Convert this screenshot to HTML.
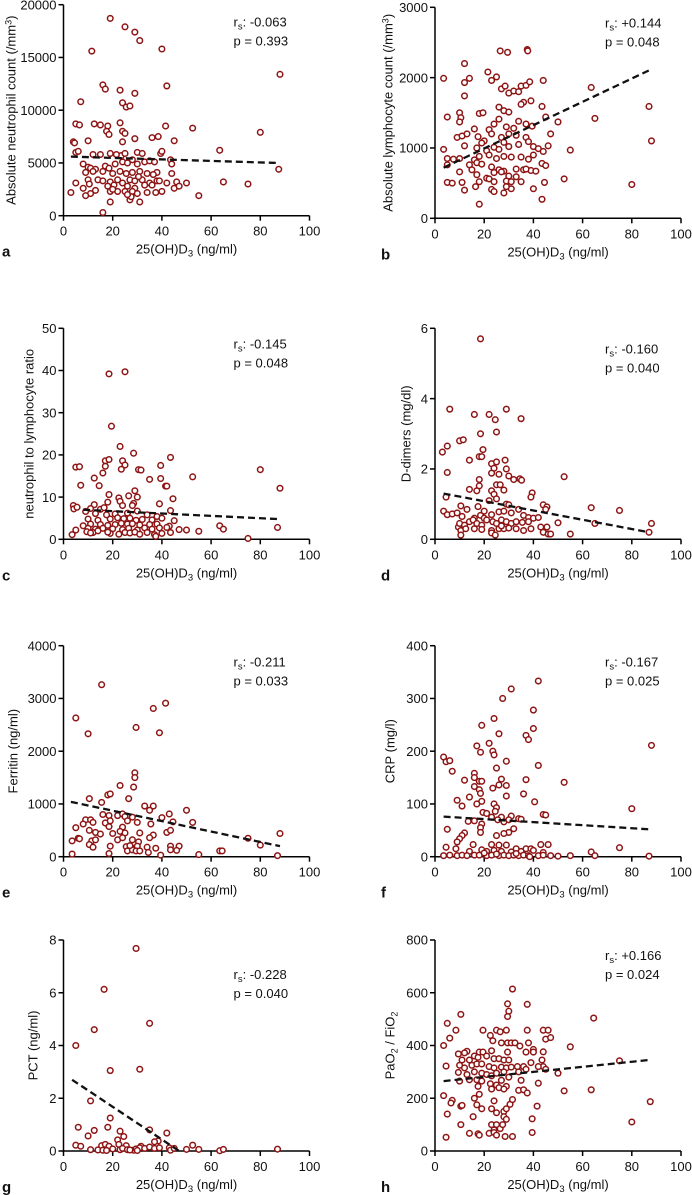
<!DOCTYPE html>
<html><head><meta charset="utf-8">
<style>
html,body{margin:0;padding:0;background:#fff;}
svg{display:block;font-family:"Liberation Sans",Arial,sans-serif;}
</style></head>
<body>
<svg id="fig" width="692" height="1195" viewBox="0 0 692 1195"></svg>
<script>
// ---- data (x = 25(OH)D3 ng/ml, y = marker value) ----
const xA=[19,25,29,31,11.5,40,88,16,17,23,42,29,7,24,25.5,27,5,6.5,12.5,15,18,17.5,23,24,25,18.5,41.5,52.5,80,10,4,4.5,24,29,36,38.5,45,63.5,5,6,12,15,19,23.5,25,30,32,39.5,40,43.5,8,10,11,13,17,18.5,21,24,26,28,30,33,35,37,44,87.5,9,12,16,20,23,25.5,28,31,34,38,44,10,14,16,19,22,24,27,29,32,35,38,42,46,50,65,75,5,10.5,18,20.5,26,29,33,36,45,47,3,8,11,13,19,22,25,28,30,34,37.5,40,9,27,27.5,19,31,55,16,26,30.5,36.5,39,21.5,20];
const yA=[18700,17900,17400,16600,15600,15800,13400,12400,12000,11900,12300,11600,10800,10700,10300,10400,8700,8600,8700,8600,8500,8000,8800,8000,7800,7700,8500,8300,7900,7100,7000,6900,7000,7300,7400,7500,7100,6200,6000,6100,5800,5800,5900,5700,5900,6000,5900,5900,6100,5300,4900,4600,4500,4400,4700,4500,4900,5100,5000,5300,4900,5100,5200,5100,4900,4400,4100,4200,4200,4000,4200,4000,4100,4200,4000,4100,4000,3400,3400,3300,3200,3400,3100,3400,3300,3400,3100,3300,3100,3200,3100,3200,3000,3100,3000,2800,2900,2800,2600,2900,2900,2600,2800,2200,2600,2100,2400,2300,2300,2300,2300,2100,2200,2200,2300,1900,1500,1800,1300,1300,1900,300,2000,3700,3900,3300,5800,2500];
const xB=[12,26.5,29.5,37.5,37.7,3.5,12,14,21.5,23,25,44,63.5,12,27,28.5,30,32,34,35,37,38.5,36,39,5,10,10.5,18,19.5,26,28,30,35,43.5,45,50,65,87,10,16,22,24,26,29,32,34,37,39.5,47,9,11,13,17.5,20,23,27,30,33,37,3.5,12,17,19,21,24,26,28,30,34,38,40,42,44,46,55,88,5,7.5,10,16,18,22,25,28,31,35,38,40,5,14,17,19,23,26,28,33,36,39,43.5,45,10,15,17,21,24,27,30,33,37,41,5,7,11,18,22,24,29,31,35,44.5,52.5,80,12,16.5,23,24,28,31,40,43.5,18,29];
const yB=[2200,2380,2360,2400,2380,1990,1930,1990,2080,1960,2010,1960,1860,1740,1840,1880,1780,1810,1800,1880,1890,1940,1650,1670,1440,1500,1430,1490,1500,1580,1530,1510,1620,1590,1440,1370,1420,1590,1370,1270,1260,1340,1410,1300,1280,1380,1340,1310,1200,1150,1170,1200,1160,1100,1200,1150,1200,1180,1150,980,1030,1000,1070,960,1010,980,1080,1020,1050,1090,1020,990,950,1030,970,1100,850,840,850,830,880,900,850,880,870,870,840,900,760,760,790,770,730,690,670,700,690,680,780,750,660,690,620,570,650,660,600,590,700,670,510,500,510,520,560,520,530,520,520,510,560,480,400,450,410,380,360,420,420,270,200,450];
const xC=[18.5,25,19.5,23,28.5,43.5,17,18.5,24,25,5,6.5,17,23.5,30.5,31.5,39.5,80,16,12.5,35,39.5,52.5,14.5,7,41.5,42,88,29,18.5,26.5,30,22.5,44.5,23,28.5,28,18,12.5,4,4.2,5.5,11,15,16.5,24,39,43.5,9,13,17.5,21,26,30,34,38,10,14,19,22,24.5,27,29.5,32,36,40,45,8,11,15,18,21,23.5,26,28,31,35,38,43,47,63.5,65,87,5,10,13,16,20,24,26.5,30,33,36,39,42,50,55,3.5,9.5,12,19,22.5,25,27,29,31,34,37,40,43.5,37.5,75,11,14,18];
const yC=[39.2,39.7,26.8,22,20.4,19.4,18.6,18.9,18.6,17.6,17.1,17.2,17.3,16.6,16.5,16.4,17.5,16.5,15.7,14.5,14.2,14.4,14.8,12.7,12.8,12.6,12.6,12.1,11.5,10.6,10.3,10,9.8,9.6,9,8.5,8,8.8,8.2,8,7.2,7.6,7.3,7.1,7.5,8,8.4,6.8,6.6,6.1,5.8,6,6.2,6.7,5.8,5.4,4.8,4.5,4.8,5.1,4.9,5,4.5,4.7,4.6,5,4.4,3.2,3.6,3.5,3.3,3.5,3.8,3.6,3.7,3.4,3.5,3.6,3.1,2.3,3.2,2.4,2.8,2.2,2.6,2.4,2.6,2.5,2.3,2.6,2.2,2.7,2.4,2.7,2.8,2.2,1.9,1.1,1.8,1.6,1.4,1.2,1.6,1.5,1.7,1.2,1.6,1.1,1.4,1.6,0.7,0.2,1.5,2,1.7];
const xD=[18.5,6,29,16,22,24.5,35,25,18.5,10,11.5,5,3,19.5,18,19,14,28.5,23,25,29,24,5,23,26,30,52.5,32,34.5,35.2,18,18,25,26.5,14,17,23,28,39.5,39,24,25,22,4.5,10.5,17.5,29,30,44,45.5,63.5,75,3.5,5,7,9,11,13,16,18.5,20,23,26,28,31,34,36,38,40,42,45,9.5,10,12,14,15.5,17,19,21,23.5,25,27,29,31,33,35.5,38,50,65,88,10.5,12.5,16,19,23,26,28,30,33,36,39,43,45.5,10.5,23,24.5,44,46,47,55,87,27,20];
const yD=[5.7,3.7,3.7,3.55,3.55,3.4,3.43,3.05,3,2.8,2.83,2.65,2.48,2.55,2.35,2.35,2.25,2.25,2.15,2.2,2,2.02,1.9,1.88,1.85,1.8,1.78,1.7,1.72,1.68,1.7,1.52,1.55,1.55,1.42,1.38,1.38,1.4,1.32,1.2,1.28,1.15,1.1,1.2,0.95,0.93,1,0.98,0.98,0.92,0.9,0.82,0.8,0.7,0.72,0.75,0.65,0.85,0.6,0.68,0.6,0.7,0.78,0.8,0.75,0.85,0.68,0.62,0.6,0.62,0.85,0.35,0.45,0.4,0.5,0.55,0.45,0.4,0.55,0.5,0.45,0.55,0.5,0.45,0.5,0.48,0.5,0.47,0.45,0.45,0.25,0.3,0.3,0.28,0.25,0.3,0.3,0.32,0.3,0.25,0.3,0.35,0.35,0.12,0.18,0.12,0.2,0.15,0.15,0.15,0.2,0.38,0.8];
const xE=[15.5,5,10,29.5,36.5,41.5,39,29,29,28.5,23,18,19,10.5,26.5,15.5,33,36.5,35,50,16,18.5,22,24,25,28,43,40,9,11,12,17,19,26,30,35.5,44.5,52.5,5,8,18.5,24,13,15,20,23,25,31,36.5,42,43.5,10.5,11.5,3.5,6,6.5,13,22,24,28,30.5,35,75,88,10.5,12,19,25.5,28,30,34,37.5,43.5,47,80,3.5,18.5,26,28,29.5,34.5,43.5,46,63.5,64.5,39.5,55,87,27,31];
const yE=[3260,2630,2330,2450,2810,2910,2350,1590,1500,1320,1350,1170,1190,1100,1100,1030,960,960,880,880,800,780,780,810,760,750,810,740,700,700,650,640,680,680,650,620,660,650,550,620,570,560,460,430,440,480,450,450,410,460,500,500,300,300,350,340,320,320,360,320,280,360,350,440,230,180,200,190,160,200,180,160,200,200,220,50,60,110,130,110,80,130,120,110,110,30,40,20,210,110];
const xF=[42,31,27.5,40,24,19,40,26,37,38,22,17,88,23.5,18.5,24,3.5,4.5,6,29,42,25,7,16,16,18,19,12,27,37,52.5,16,26,29,18,23.5,18.5,36,14,29,19,9,17,40.5,24,11,25,80,24.5,19.5,21,44,45,23,27,31,34,35,25.5,13.5,16,28,30,19,12,11,18.5,18.5,32,30,28,25,5,10,9,23,26,29,33,15.5,43,46,37,39,75,4.5,8.5,14,19,21,24,27,31,35,40,44,63.5,3.5,6,9,11,13,16,18,21,23,26,28,30,32,34,36,38,42,44,47,50,55,65,87,38.5,25,20,33];
const yF=[333,318,300,278,262,249,243,233,230,222,215,210,211,200,198,193,189,180,182,181,173,168,162,158,150,143,143,145,147,146,141,133,136,135,127,130,120,119,113,115,105,107,100,104,100,96,93,91,86,84,82,80,79,75,75,77,72,71,70,67,68,66,70,62,45,40,55,46,53,46,44,40,52,34,28,23,22,22,15,23,23,23,15,15,17,18,15,10,13,10,12,10,9,10,12,8,9,2,3,2,3,2,3,3,2,3,2,3,2,3,2,3,2,2,3,2,1,2,2,1,0,5,7,6];
const xG=[29.5,16.5,35,12.5,5,19,31,11,19,6,18,35,12.5,23,42,10,24.5,22,38.5,37,5,7,15.5,17,18.5,22.5,25.5,31.5,52.5,11,14,16,17.5,20,23,24,26,28.5,29.5,31,33,35,37,39,43,43.5,45,50,55,63.5,65,87,30,27];
const yG=[7.68,6.13,4.84,4.6,4,3.05,3.1,1.9,1.25,0.9,0.9,0.8,0.78,0.75,0.68,0.57,0.55,0.42,0.38,0.35,0.22,0.18,0.2,0.25,0.18,0.25,0.2,0.18,0.22,0.05,0.04,0.03,0.02,0.08,0.05,0.1,0.05,0.03,0.08,0.12,0.1,0.15,0.1,0.12,0.12,0.03,0.1,0.06,0.06,0.01,0.06,0.07,0.02,0.04];
const xH=[31.5,29.5,37.5,30,29.5,10.5,64.5,5,8.5,6,19.5,22.5,25,26.5,29,37.5,44,46,45,47,3.5,23.5,27,29.5,31,32.5,34.5,38,40,55,13,9.5,12,18,19.5,23,29.5,37,40,44,14,11,16,17.5,21,24,26,28,30,33.5,36,39,43.5,44,75,4.5,10,12,15,17,19,22,24,27,29,31,34,37,42,45,50,9.5,13,16,19,21,23,25,28,30,10,14,17,19,22.5,25,27,29,35,42,17.5,23,26,28,34,36,37.5,52.5,63.5,3.5,7,6.5,16,18,17,19,23,28,29,30.5,31.5,41.5,24,10.5,11,87.5,5,15.5,25,28,29,39.5,10.5,23,25,26.5,24,27.5,80,14,17.5,18,22,24,25,28.5,31.5,39.5,4.5];
const yH=[614,558,556,530,510,518,504,484,458,428,458,438,458,452,458,458,458,458,424,430,400,418,410,410,410,410,398,410,385,395,378,368,372,375,375,380,375,375,375,376,345,345,360,355,360,350,350,345,345,320,320,335,345,320,342,322,325,315,325,330,330,320,315,318,315,318,300,310,320,310,295,298,290,300,295,290,285,295,300,280,265,270,270,265,255,250,268,245,268,257,245,235,240,235,230,232,220,228,232,210,192,182,200,215,175,160,160,150,160,177,195,170,190,170,173,187,140,130,145,130,120,122,100,100,100,85,80,100,110,67,65,60,67,70,60,55,55,70,52];
// trend-line endpoints (x1,y1,x2,y2)
const trendA=[3,5600,87,5000], trendB=[3.5,720,88,2120], trendC=[8,7,87,4.8], trendD=[3.5,1.3,87,0.2];
const trendE=[3,1040,88,200], trendF=[3.5,76,87,52], trendG=[3.5,2.7,47,0], trendH=[3.5,265,87,345];
const xTicks=[0,20,40,60,80,100];

const NS="http://www.w3.org/2000/svg";
const svg=document.getElementById('fig');
const RED="#8e1414";
const FS=13;
function mk(tag,attrs,parent){const e=document.createElementNS(NS,tag);for(const k in attrs)e.setAttribute(k,attrs[k]);(parent||svg).appendChild(e);return e;}

const panels=[
 {id:'a',L:63.5,T:4.7,ymax:20000,yt:[0,5000,10000,15000,20000],xs:xA,ys:yA,tr:trendA,tx:11,r:'-0.063',p:'0.393',sy:22},
 {id:'b',L:435,T:7.3,ymax:3000,yt:[0,1000,2000,3000],xs:xB,ys:yB,tr:trendB,tx:388,r:'+0.144',p:'0.048',sy:20},
 {id:'c',L:63.5,T:328.3,ymax:50,yt:[0,10,20,30,40,50],xs:xC,ys:yC,tr:trendC,tx:29,r:'-0.145',p:'0.048',sy:20},
 {id:'d',L:435,T:328.3,ymax:6,yt:[0,2,4,6],xs:xD,ys:yD,tr:trendD,tx:406,r:'-0.160',p:'0.040',sy:25},
 {id:'e',L:63.5,T:645.7,ymax:4000,yt:[0,1000,2000,3000,4000],xs:xE,ys:yE,tr:trendE,tx:13,r:'-0.211',p:'0.033',sy:21},
 {id:'f',L:435,T:645.7,ymax:400,yt:[0,100,200,300,400],xs:xF,ys:yF,tr:trendF,tx:390,r:'-0.167',p:'0.025',sy:21},
 {id:'g',L:63.5,T:940,ymax:8,yt:[0,2,4,6,8],xs:xG,ys:yG,tr:trendG,tx:33,r:'-0.228',p:'0.040',sy:39},
 {id:'h',L:435,T:940,ymax:800,yt:[0,200,400,600,800],xs:xH,ys:yH,tr:trendH,tx:390,r:'+0.166',p:'0.024',sy:20}
];
const titles={
 a:'Absolute neutrophil count (/mm<tspan dy="-4" font-size="9">3</tspan><tspan dy="4">)</tspan>',
 b:'Absolute lymphocyte count (/mm<tspan dy="-4" font-size="9">3</tspan><tspan dy="4">)</tspan>',
 c:'neutrophil to lymphocyte ratio',
 d:'D-dimers (mg/dl)',
 e:'Ferritin (ng/ml)',
 f:'CRP (mg/l)',
 g:'PCT (ng/ml)',
 h:'PaO<tspan dy="3" font-size="9">2</tspan><tspan dy="-3"> / FiO</tspan><tspan dy="3" font-size="9">2</tspan>'
};
const W=246,H=211;

panels.forEach(P=>{
  const B=P.T+H;
  const sx=v=>P.L+v/100*W;
  const sy=v=>B-v/P.ymax*(B-P.T);
  const g=mk('g',{});
  
  
  const ya=mk('line',{x1:P.L,y1:P.T,x2:P.L,y2:B+0.7,stroke:'#000','stroke-width':1.5},g);
  
  
  const xa=mk('line',{x1:P.L-0.7,y1:B,x2:P.L+W,y2:B,stroke:'#000','stroke-width':1.5},g);
  
  
  P.yt.forEach(t=>{
    mk('line',{x1:P.L-5,y1:sy(t),x2:P.L,y2:sy(t),stroke:'#000','stroke-width':1.5},g);
    const tl=mk('text',{x:P.L-7,y:sy(t)+4.7,'text-anchor':'end','font-size':FS,fill:'#111'},g);
    tl.textContent=t;
    
    
  });
  xTicks.forEach(t=>{
    mk('line',{x1:sx(t),y1:B,x2:sx(t),y2:B+5,stroke:'#000','stroke-width':1.5},g);
    const tl=mk('text',{x:sx(t),y:B+20,'text-anchor':'middle','font-size':FS,fill:'#111'},g);
    tl.textContent=t;
    
    
  });
  const xt=mk('text',{x:P.L+W/2,y:B+38,'text-anchor':'middle','font-size':FS,fill:'#111'},g);
  xt.innerHTML='25(OH)D<tspan dy="3" font-size="9.5">3</tspan><tspan dy="-3"> (ng/ml)</tspan>';
  
  
  const cy=(P.T+B)/2;
  const yt=mk('text',{x:0,y:0,'text-anchor':'middle','font-size':FS,fill:'#111',transform:`translate(${P.tx+4.5},${cy}) rotate(-90)`},g);
  yt.innerHTML=titles[P.id];
  
  
  P.xs.forEach((xv,i)=>{
    const c=mk('circle',{cx:sx(xv),cy:sy(P.ys[i]),r:2.8,fill:'#fff',stroke:RED,'stroke-width':1.5},g);
    
    
  });
  const tr=mk('line',{x1:sx(P.tr[0]),y1:sy(P.tr[1]),x2:sx(P.tr[2]),y2:sy(P.tr[3]),stroke:'#111','stroke-width':2.3,'stroke-dasharray':'7 4'},g);
  
  
  const s1=mk('text',{x:P.L+170,y:P.T+P.sy,'font-size':FS,fill:'#111'},g);
  s1.innerHTML='r<tspan dy="3" font-size="9.5">s</tspan><tspan dy="-3">: '+P.r+'</tspan>';
  
  
  const s2=mk('text',{x:P.L+170,y:P.T+P.sy+19,'font-size':FS,fill:'#111'},g);
  s2.textContent='p = '+P.p;
  
  
  const lt=mk('text',{x:P.L<100?2:381,y:B+41,'font-size':15,'font-weight':'bold',fill:'#111'},g);
  lt.textContent=P.id;
  
  
});
</script>
</body></html>
